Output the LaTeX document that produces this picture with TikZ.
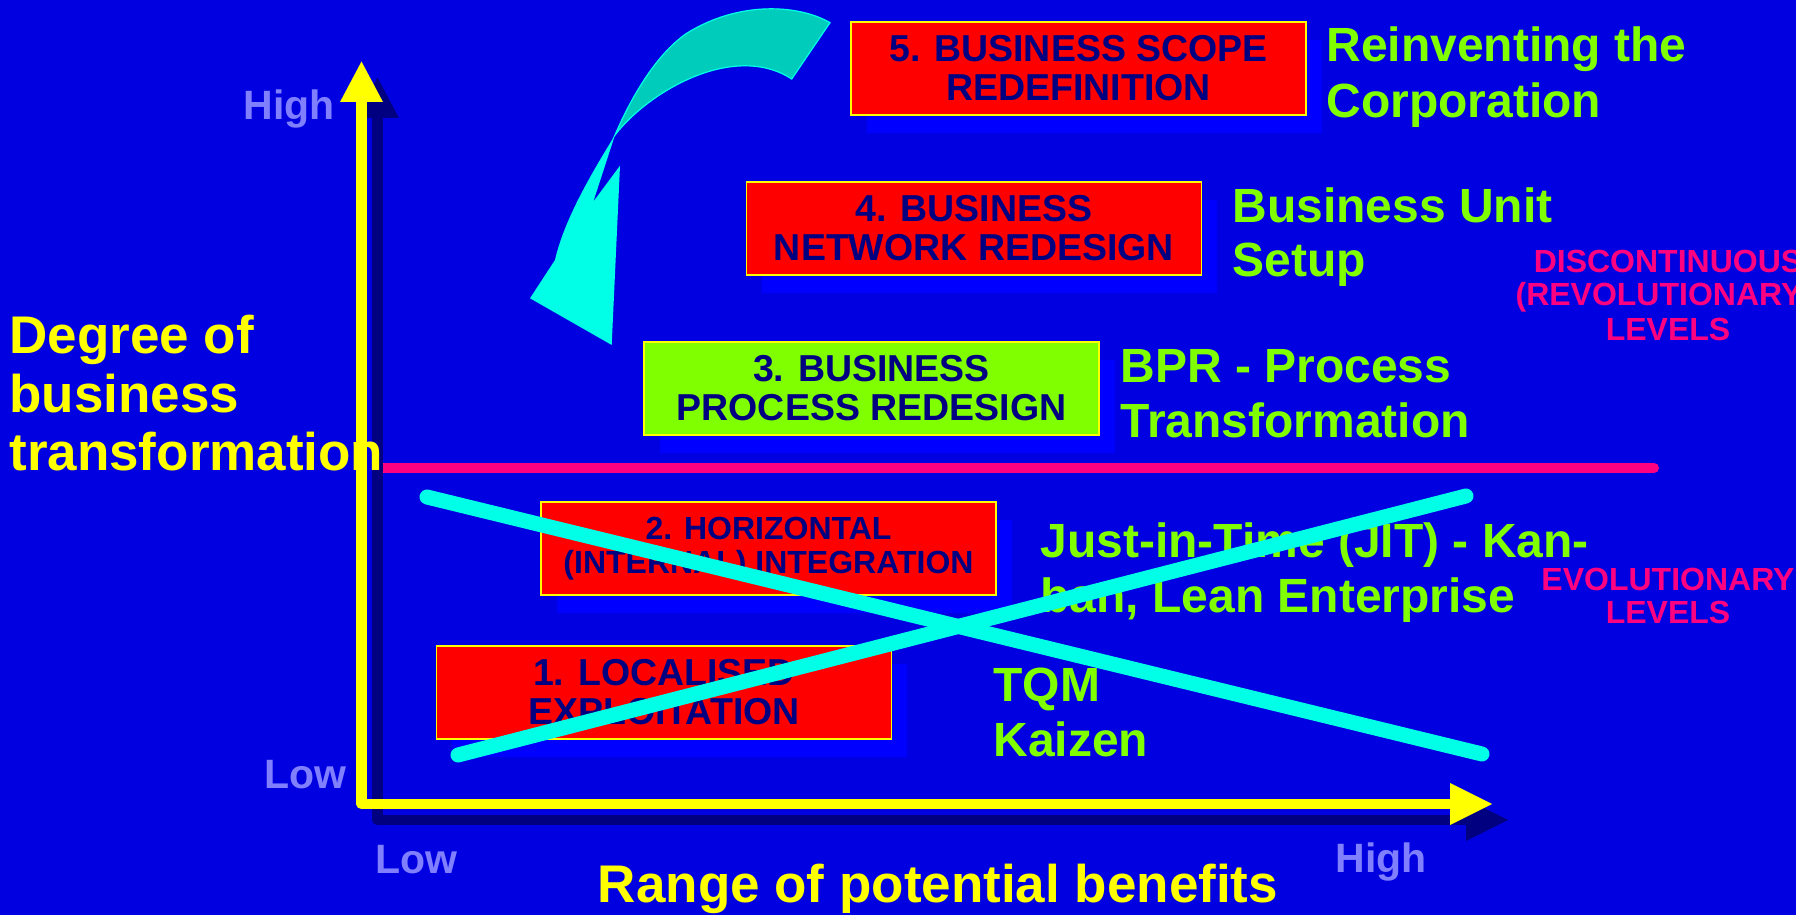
\documentclass[tikz,border=0pt]{standalone}
\usepackage{fontspec}
\setmainfont{Liberation Sans}
\usetikzlibrary{shadows}
\definecolor{bg}{RGB}{0,0,224}
\definecolor{shblue}{RGB}{0,0,255}
\definecolor{navy}{RGB}{0,0,128}
\definecolor{boxred}{RGB}{255,0,0}
\definecolor{grn}{RGB}{128,255,0}
\definecolor{pnk}{RGB}{255,0,128}
\definecolor{cyanx}{RGB}{0,255,230}
\definecolor{tealdark}{RGB}{0,204,187}
\definecolor{lowhigh}{RGB}{128,128,255}
\definecolor{ylw}{RGB}{255,255,0}
\begin{document}
\begin{tikzpicture}[x=0.5pt,y=-0.5pt,
  titletxt/.style={text=ylw,font=\bfseries\fontsize{26.5}{29}\selectfont,inner sep=0pt,anchor=base west},
  greentxt/.style={text=grn,font=\bfseries\fontsize{24}{28}\selectfont,inner sep=0pt,anchor=base west},
  pinktxt/.style={text=pnk,font=\bfseries\fontsize{16}{17}\selectfont,inner sep=0pt,anchor=base},
  axlbl/.style={text=lowhigh,font=\bfseries\fontsize{20.5}{24}\selectfont,inner sep=0pt},
  levelbox/.style={draw=ylw,line width=0.8pt,fill=boxred,minimum width=227.5pt,minimum height=46.5pt,
    inner sep=0pt,align=center,text=navy,font=\bfseries\fontsize{18.75}{19.5}\selectfont,
    drop shadow={shadow xshift=7.75pt,shadow yshift=-9pt,fill=shblue,opacity=1}},
  smallbox/.style={levelbox,font=\bfseries\fontsize{16}{17}\selectfont},
  axisline/.style={line width=5.25pt,line join=round},
  xline/.style={cyanx,line width=7.5pt,line cap=round}
]
\useasboundingbox (0,0) rectangle (1796,915);
\fill[bg] (0,0) rectangle (1796,915);
\clip (0,0) rectangle (1796,915);

% level boxes
\node[levelbox] (b5) at (1078.5,68.5) {5. BUSINESS SCOPE\\REDEFINITION};
\node[levelbox] (b4) at (974,228.5) {4. BUSINESS\\NETWORK REDESIGN};
\node[levelbox,fill=grn] (b3) at (871.5,388.5) {3. BUSINESS\\PROCESS REDESIGN};
\node[smallbox] (b2) at (768.5,548.5) {2. HORIZONTAL\\(INTERNAL) INTEGRATION};
\node[levelbox] (b1) at (664,692.5) {1. LOCALISED\\EXPLOITATION};

% green descriptions
\node[greentxt] (g5a) at (1326,62) {Reinventing the};
\node[greentxt] (g5b) at (1326,118) {Corporation};
\node[greentxt] (g4a) at (1232,222) {Business Unit};
\node[greentxt] (g4b) at (1232,277) {Setup};
\node[greentxt] (g3a) at (1120,382) {BPR - Process};
\node[greentxt] (g3b) at (1120,437) {Transformation};
\node[greentxt] (g2a) at (1040,557) {Just-in-Time (JIT) - Kan-};
\node[greentxt] (g2b) at (1040,612) {ban, Lean Enterprise};
\node[greentxt] (g1a) at (993,701) {TQM};
\node[greentxt] (g1b) at (993,756) {Kaizen};

% pink level labels
\node[pinktxt] (p1) at (1668,272) {DISCONTINUOUS};
\node[pinktxt] (p2) at (1659,306) {(REVOLUTIONARY};
\node[pinktxt] (p3) at (1668,340) {LEVELS};
\node[pinktxt] (p4) at (1668,590) {EVOLUTIONARY};
\node[pinktxt] (p5) at (1668,623) {LEVELS};

% low / high labels
\node[axlbl,anchor=base east] (yhigh) at (335,120) {High};
\node[axlbl,anchor=base east] (ylow) at (347,788) {Low};
\node[axlbl,anchor=base west] (xlow) at (375,873) {Low};
\node[axlbl,anchor=base west] (xhigh) at (1335,872) {High};

% pink divider
\coordinate (pl) at (383,468);
\coordinate (pr) at (1654,468);
\draw[pnk,line width=5pt,line cap=round] (pl) -- (pr);

% axes
\coordinate (ytop) at (361.5,102);
\coordinate (orig) at (361.5,804);
\coordinate (xend) at (1450,804);
\coordinate (ytip) at (361.5,61.5);
\coordinate (xtip) at (1492,804);
\coordinate (yhl) at (340,102);
\coordinate (yhr) at (383,102);
\coordinate (xht) at (1450,783);
\coordinate (xhb) at (1450,825);
\tikzset{sh/.style={shift={(8pt,-8pt)}}}
\draw[navy,axisline] ([sh]ytop) -- ([sh]orig) -- ([sh]xend);
\fill[navy] ([sh]ytip) -- ([sh]yhl) -- ([sh]yhr) -- cycle;
\fill[navy] ([sh]xtip) -- ([sh]xht) -- ([sh]xhb) -- cycle;
\draw[ylw,axisline] (ytop) -- (orig) -- (xend);
\fill[ylw] (ytip) -- (yhl) -- (yhr) -- cycle;
\fill[ylw] (xtip) -- (xht) -- (xhb) -- cycle;

% axis titles
\node[titletxt] (t1) at (9,353) {Degree of};
\node[titletxt] (t2) at (9,412) {business};
\node[titletxt] (t3) at (9,470) {transformation};
\node[titletxt,anchor=base] (t4) at (938,902) {Range of potential benefits};

% crossing lines
\coordinate (x1a) at (427,497);
\coordinate (x1b) at (1482,754);
\coordinate (x2a) at (458,755);
\coordinate (x2b) at (1466,496);
\draw[xline] (x1a) -- (x1b);
\draw[xline] (x2a) -- (x2b);

% curved arrow
\fill[tealdark,draw=cyanx,line width=0.6pt] (830,22.7) .. controls (800,5) and (740,0) .. (686.7,33.3)
  .. controls (655,55) and (630,100) .. (615,135)
  .. controls (650,90) and (735,42) .. (791.7,79) -- cycle;
\fill[cyanx] (615,135) .. controls (600,160) and (565,215) .. (555,260)
  -- (530,298.3) -- (611.7,345) -- (620,165.7) -- (593.3,201.7) -- cycle;
\end{tikzpicture}
\end{document}
